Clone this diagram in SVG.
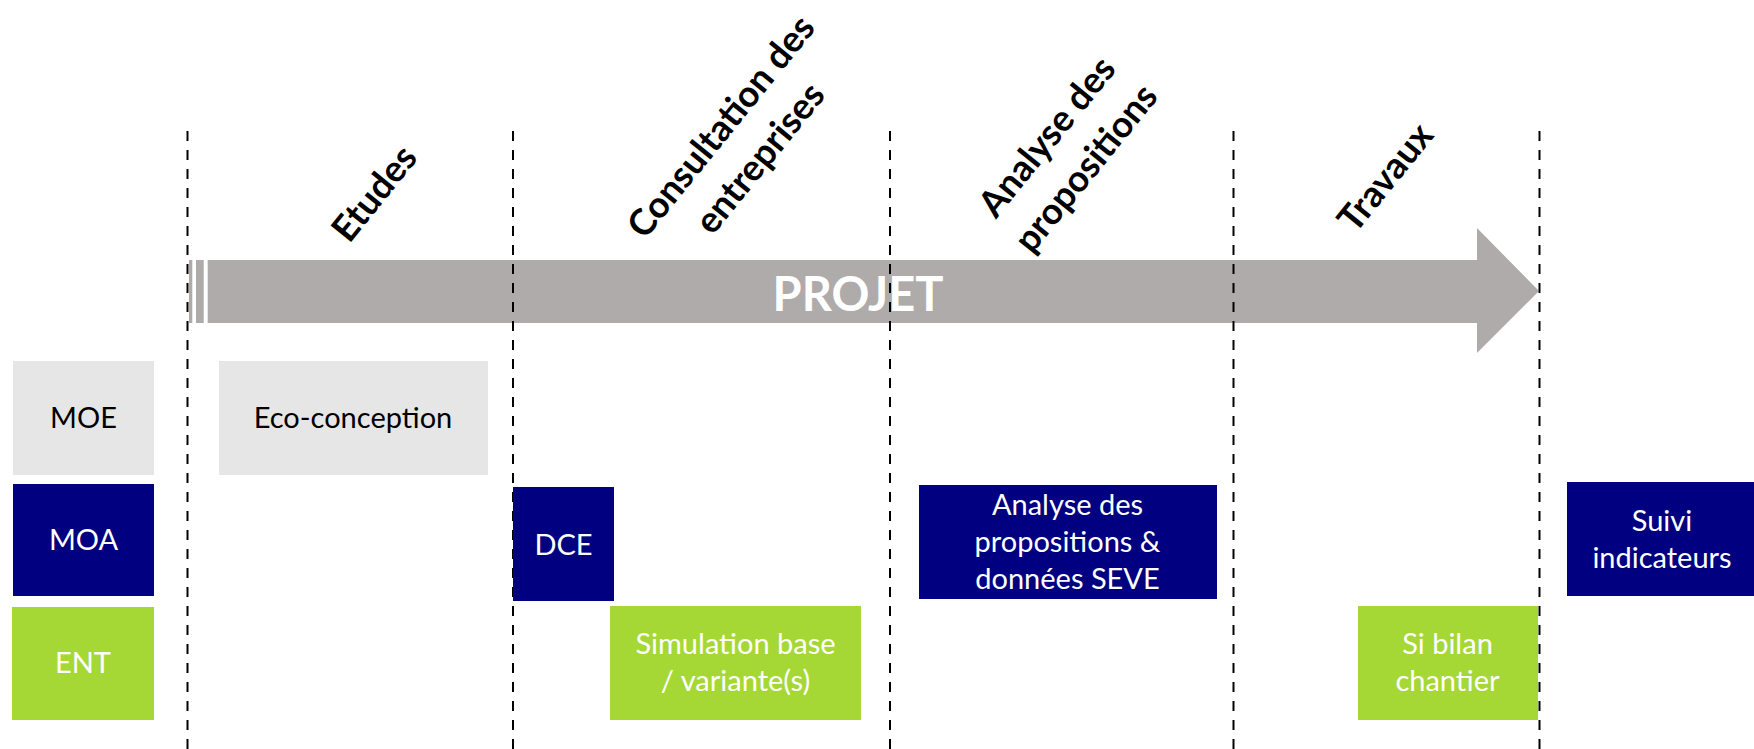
<svg xmlns="http://www.w3.org/2000/svg" width="1754" height="749" viewBox="0 0 1754 749">
<style>
.grey{fill:#E7E6E6}
.navy{fill:#000080}
.green{fill:#A5D835}
.bar{fill:#AFABAB}
.t{font-family:Lato,"Open Sans","Liberation Sans",sans-serif;font-size:29px;text-anchor:middle}
.dk{fill:#000000}
.wt{fill:#FFFFFF}
.hd{font-family:Lato,"Open Sans","Liberation Sans",sans-serif;font-size:36.5px;font-weight:bold;text-anchor:middle;fill:#000000}
.dash{stroke:#000000;stroke-width:2;stroke-dasharray:10 9;fill:none}
</style>
<rect width="1754" height="749" fill="#FFFFFF"/>

<g id="arrow-projet">
<rect class="bar" x="189" y="260" width="3.3" height="63"/>
<rect class="bar" x="196" y="260" width="7.7" height="63"/>
<polygon class="bar" points="207.7,260 1477,260 1477,228 1539,291 1477,353 1477,323 207.7,323"/>
<text x="858" y="311" font-family="Lato,'Open Sans','Liberation Sans',sans-serif" font-size="47" font-weight="bold" fill="#FFFFFF" text-anchor="middle">PROJET</text>
</g>

<g id="phase-lines">
<line class="dash" x1="187.5" y1="131" x2="187.5" y2="749"/>
<line class="dash" x1="513" y1="131" x2="513" y2="749"/>
<line class="dash" x1="890" y1="131" x2="890" y2="749"/>
<line class="dash" x1="1233.5" y1="131" x2="1233.5" y2="749"/>
<line class="dash" x1="1539.5" y1="131" x2="1539.5" y2="749"/>
</g>

<g id="phase-etudes" transform="translate(374,193) rotate(-51)">
<text class="hd" x="0" y="13">Etudes</text>
</g>
<g id="phase-consultation" transform="translate(740,142) rotate(-51)">
<text class="hd" x="0" y="-12">Consultation des</text>
<text class="hd" x="0" y="38">entreprises</text>
</g>
<g id="phase-analyse" transform="translate(1066,152) rotate(-51)">
<text class="hd" x="0" y="-12">Analyse des</text>
<text class="hd" x="0" y="38">propositions</text>
</g>
<g id="phase-travaux" transform="translate(1385,177) rotate(-51)">
<text class="hd" x="0" y="13">Travaux</text>
</g>

<g id="moe">
<rect class="grey" x="13" y="361" width="141" height="114"/>
<text class="t dk" x="83.5" y="428">MOE</text>
</g>
<g id="moa">
<rect class="navy" x="13" y="484" width="141" height="112"/>
<text class="t wt" x="83.5" y="550">MOA</text>
</g>
<g id="ent">
<rect class="green" x="12" y="607" width="142" height="113"/>
<text class="t wt" x="83" y="673">ENT</text>
</g>

<g id="eco-conception">
<rect class="grey" x="219" y="361" width="269" height="114"/>
<text class="t dk" x="353" y="428">Eco-conception</text>
</g>
<g id="dce">
<rect class="navy" x="513" y="487" width="101" height="114"/>
<text class="t wt" x="563.5" y="555">DCE</text>
</g>
<g id="simulation">
<rect class="green" x="610" y="606" width="251" height="114"/>
<text class="t wt" x="735.5" y="654">Simulation base</text>
<text class="t wt" x="735.5" y="691">/ variante(s)</text>
</g>
<g id="analyse">
<rect class="navy" x="919" y="485" width="298" height="114"/>
<text class="t wt" x="1067.5" y="515">Analyse des</text>
<text class="t wt" x="1067.5" y="552">propositions &amp;</text>
<text class="t wt" x="1067.5" y="589">données SEVE</text>
</g>
<g id="si-bilan">
<rect class="green" x="1358" y="606" width="180" height="114"/>
<text class="t wt" x="1447.5" y="654">Si bilan</text>
<text class="t wt" x="1447.5" y="691">chantier</text>
</g>
<g id="suivi">
<rect class="navy" x="1567" y="482" width="187" height="114"/>
<text class="t wt" x="1662" y="531">Suivi</text>
<text class="t wt" x="1662" y="568">indicateurs</text>
</g>
</svg>
